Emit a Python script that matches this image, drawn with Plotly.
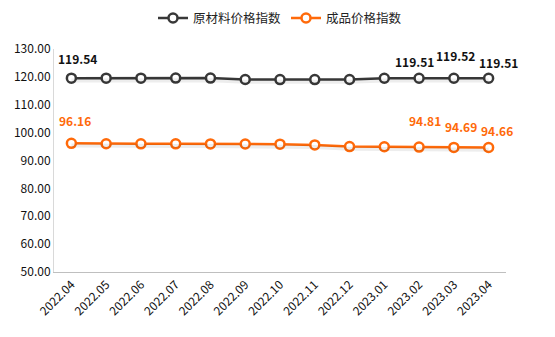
import plotly.graph_objects as go

months = ["2022.04","2022.05","2022.06","2022.07","2022.08","2022.09","2022.10",
          "2022.11","2022.12","2023.01","2023.02","2023.03","2023.04"]
raw_index = [119.54,119.55,119.55,119.56,119.57,119.05,119.02,119.03,119.04,119.50,119.51,119.52,119.51]
prod_index = [96.16,96.00,95.98,95.97,95.96,95.90,95.85,95.60,95.00,94.95,94.81,94.69,94.66]
raw_name = "原材料价格指数"
prod_name = "成品价格指数"
raw_labels = {0: (6, 20), 10: (-5, 17), 11: (2, 23), 12: (10, 16)}
prod_labels = {0: (4, 23), 10: (6, 27), 11: (7, 21), 12: (8, 17)}

BLACK = "#383838"
ORANGE = "#FF6A0A"
FONT = "Noto Sans CJK SC"
xpos = list(range(len(months)))

fig = go.Figure()
# soft shadows under the lines (drawn on an overlay axis shifted slightly)
for vals in [raw_index, prod_index]:
    fig.add_trace(go.Scatter(x=xpos, y=vals, mode="lines", yaxis="y2", showlegend=False,
                             hoverinfo="skip", line=dict(color="rgba(0,0,0,0.07)", width=4)))
for vals, name, col in [(raw_index, raw_name, BLACK), (prod_index, prod_name, ORANGE)]:
    fig.add_trace(go.Scatter(x=xpos, y=vals, name=name, mode="lines+markers",
                             line=dict(color=col, width=2.5),
                             marker=dict(size=9, color="white", line=dict(color=col, width=2.5))))

for vals, labs, col in [(raw_index, raw_labels, "#111111"), (prod_index, prod_labels, ORANGE)]:
    for i, (dx, dy) in labs.items():
        fig.add_annotation(x=xpos[i], y=vals[i], text=f"{vals[i]:.2f}", showarrow=False,
                           xshift=dx, yshift=dy,
                           font=dict(family=FONT, size=12, color=col, weight="bold"))

fig.update_layout(
    width=555, height=337, margin=dict(l=54, r=49, t=49, b=65, autoexpand=False),
    paper_bgcolor="white", plot_bgcolor="white",
    font=dict(family=FONT, size=12, color="#222222"),
    showlegend=True,
    legend=dict(orientation="h", x=0.5, xanchor="center", y=0.99, yref="container",
                yanchor="top", font=dict(size=12.5, color="#222222"), itemwidth=30,
                tracegroupgap=0),
    xaxis=dict(range=[-0.5, len(months) - 0.5], tickvals=xpos, ticktext=months,
               showgrid=False, showline=True, linecolor="#BFBFBF", zeroline=False,
               ticks="", tickangle=-45, tickfont=dict(size=12, color="#111111")),
    yaxis=dict(range=[50, 130], dtick=10, tickformat=".2f", showgrid=False, showline=True,
               linecolor="#D9D9D9", ticks="", zeroline=False,
               tickfont=dict(size=12, color="#111111")),
    yaxis2=dict(range=[50.8, 130.8], overlaying="y", visible=False),
)

fig.write_html("out.html")
